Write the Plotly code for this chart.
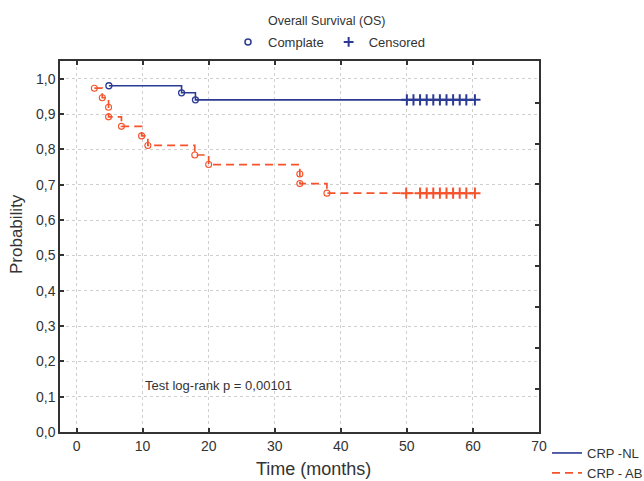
import plotly.graph_objects as go

# ---- data ----
nl_event_t = [4.9, 15.9, 18.0]
nl_event_s = [0.980, 0.960, 0.940]
nl_cens_t = [50, 51, 52, 53, 54, 55, 56, 57, 58, 59, 60.3]
nl_cens_s = 0.940

ab_event_t = [2.7, 3.9, 4.85, 4.85, 6.8, 9.85, 10.8, 17.9, 20.0, 33.8, 33.8, 37.9]
ab_event_s = [0.973, 0.946, 0.919, 0.892, 0.865, 0.838, 0.811, 0.784, 0.757, 0.730, 0.703, 0.676]
ab_cens_t = [49.9, 52.0, 53.0, 54.0, 55.0, 56.0, 57.0, 58.0, 59.0, 60.3]
ab_cens_s = 0.676

x_ticks = [0, 10, 20, 30, 40, 50, 60, 70]
y_ticks = [0.0, 0.1, 0.2, 0.3, 0.4, 0.5, 0.6, 0.7, 0.8, 0.9, 1.0]
right_ticks = [0.121, 0.237, 0.353, 0.469, 0.585, 0.701, 0.816, 0.932]

BLUE = "#2b3a92"
ORANGE = "#f5532b"
TXT = "#333333"

fig = go.Figure()

# step lines
fig.add_trace(go.Scatter(
    x=nl_event_t + [nl_cens_t[-1]], y=nl_event_s + [nl_cens_s],
    mode="lines", line=dict(color=BLUE, width=1.6, shape="hv"),
    name="CRP -NL", legend="legend"))
fig.add_trace(go.Scatter(
    x=ab_event_t + [ab_cens_t[-1]], y=ab_event_s + [ab_cens_s],
    mode="lines", line=dict(color=ORANGE, width=1.7, shape="hv", dash="8px,5px"),
    name="CRP - AB", legend="legend"))

# event markers
fig.add_trace(go.Scatter(
    x=nl_event_t, y=nl_event_s, mode="markers",
    marker=dict(symbol="circle-open", size=6, color=BLUE, line=dict(width=1.3, color=BLUE)),
    showlegend=False))
fig.add_trace(go.Scatter(
    x=ab_event_t, y=ab_event_s, mode="markers",
    marker=dict(symbol="circle-open", size=6, color=ORANGE, line=dict(width=1.1, color=ORANGE)),
    showlegend=False))

# censored markers
fig.add_trace(go.Scatter(
    x=nl_cens_t, y=[nl_cens_s] * len(nl_cens_t), mode="markers",
    marker=dict(symbol="cross-thin", size=8, color=BLUE, line=dict(width=2, color=BLUE)),
    showlegend=False))
fig.add_trace(go.Scatter(
    x=ab_cens_t, y=[ab_cens_s] * len(ab_cens_t), mode="markers",
    marker=dict(symbol="cross-thin", size=8, color=ORANGE, line=dict(width=2, color=ORANGE)),
    showlegend=False))

# top legend items (marker meaning)
fig.add_trace(go.Scatter(
    x=[None], y=[None], mode="markers", name="Complate", legend="legend2",
    marker=dict(symbol="circle-open", size=6, color=BLUE, line=dict(width=1.5, color=BLUE))))
fig.add_trace(go.Scatter(
    x=[None], y=[None], mode="markers", name="Censored", legend="legend2",
    marker=dict(symbol="cross-thin", size=7, color=BLUE, line=dict(width=2, color=BLUE))))

# invisible trace to anchor the right-hand tick axis
fig.add_trace(go.Scatter(x=[None], y=[None], yaxis="y2", showlegend=False, hoverinfo="skip"))

FONT = "Liberation Sans, Arial, sans-serif"

fig.update_layout(
    width=644, height=481,
    margin=dict(l=60, r=105, t=61, b=49, autoexpand=False),
    paper_bgcolor="white", plot_bgcolor="white",
    separators=",.",
    font=dict(family=FONT, color=TXT, size=13),
    showlegend=True,
    xaxis=dict(
        range=[-2.5, 70], tickvals=x_ticks, ticks="inside", ticklen=4, tickwidth=1.5,
        tickcolor=TXT, showline=True, linecolor=TXT, linewidth=1.5,
        mirror="ticks", showgrid=True, gridcolor="#cfcfcf", griddash="dot", gridwidth=1,
        zeroline=False, tickfont=dict(size=14, color=TXT),
    ),
    yaxis=dict(
        range=[0, 1.05], tickvals=y_ticks, tickformat=".1f", ticks="inside", ticklen=4,
        tickwidth=1.5, tickcolor=TXT, showline=True, linecolor=TXT,
        linewidth=1.5, mirror=True, showgrid=True, gridcolor="#cfcfcf", griddash="dot",
        gridwidth=1, zeroline=False, tickfont=dict(size=14, color=TXT),
    ),
    yaxis2=dict(
        overlaying="y", side="right", anchor="x", range=[0, 1.05], tickvals=right_ticks,
        ticks="inside", ticklen=4, tickwidth=1.5, tickcolor=TXT,
        showticklabels=False, showgrid=False, zeroline=False, showline=False,
    ),
    legend=dict(
        yref="container", xref="container", x=547 / 644, y=1 - 438 / 481,
        xanchor="left", yanchor="top",
        bgcolor="rgba(0,0,0,0)", font=dict(size=13, color=TXT),
        tracegroupgap=0, itemwidth=30,
    ),
    legend2=dict(
        orientation="h", yref="container", xref="container", x=228 / 644, y=1 - 27 / 481,
        xanchor="left", yanchor="top", bgcolor="rgba(0,0,0,0)",
        font=dict(size=13, color=TXT), itemwidth=30,
    ),
    annotations=[
        dict(text="Overall Survival (OS)", xref="paper", yref="paper",
             x=(326 - 60) / 479, y=1 + (61 - 21) / 371, xanchor="center", yanchor="middle",
             showarrow=False, font=dict(size=12.5, color=TXT)),
        dict(text="Test log-rank p = 0,00101", xref="x", yref="y", x=10, y=0.133,
             xanchor="left", yanchor="middle", showarrow=False,
             font=dict(size=13, color=TXT)),
        dict(text="Time (months)", xref="paper", yref="paper",
             x=(313 - 60) / 479, y=(432 - 469) / 371, xanchor="center", yanchor="middle",
             showarrow=False, font=dict(size=18, color=TXT)),
        dict(text="Probability", xref="paper", yref="paper", textangle=-90,
             x=(16 - 60) / 479, y=(432 - 234) / 371, xanchor="center", yanchor="middle",
             showarrow=False, font=dict(size=17, color=TXT)),
    ],
)

fig.write_html("out.html", config={"displayModeBar": False},
               post_script="document.body.style.margin='0';")
